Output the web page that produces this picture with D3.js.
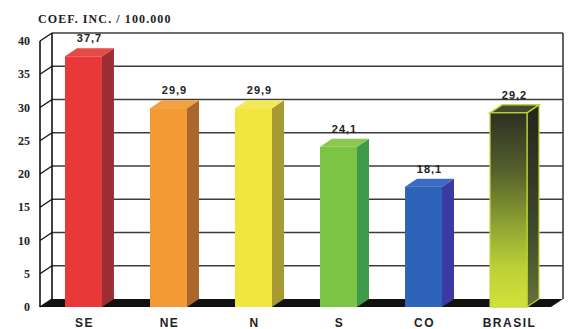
<!DOCTYPE html>
<html>
<head>
<meta charset="UTF-8">
<script src="https://d3js.org/d3.v7.min.js"></script>
<style>
  body { margin: 0; background: #fff; }
  .ticklbl { font-family: 'Liberation Serif', serif; font-weight: bold; font-size: 12px; fill: #222; }
  .title { font-family: 'Liberation Serif', serif; font-weight: bold; font-size: 12px; fill: #222; letter-spacing: 1.1px; }
  .xlbl { font-family: 'Liberation Sans', Arial, sans-serif; font-weight: bold; font-size: 12px; fill: #222; letter-spacing: 1.5px; }
  .vlbl { font-family: 'Liberation Sans', Arial, sans-serif; font-weight: bold; font-size: 11px; fill: #222; letter-spacing: 1px; }
</style>
</head>
<body>
<svg id="chart" width="568" height="329"></svg>
<script>
  // data
  const regions = ['SE', 'NE', 'N', 'S', 'CO', 'BRASIL'];
  const coef = [37.7, 29.9, 29.9, 24.1, 18.1, 29.2];
  const valueLabels = ['37,7', '29,9', '29,9', '24,1', '18,1', '29,2'];
  const ticks = [0, 5, 10, 15, 20, 25, 30, 35, 40];

  // colours: front, side, top
  const colors = [
    ['#e8383a', '#9c2f34', '#e64a44'],
    ['#f39a35', '#a9672c', '#f2a040'],
    ['#f1e540', '#a89a32', '#f3ea5a'],
    ['#7cc443', '#3f9b4b', '#8cc850'],
    ['#2f63b9', '#3b3aa2', '#3b6cc2'],
    ['url(#brFront)', 'url(#brSide)', '#454a2c']
  ];

  const svg = d3.select('#chart');
  const dx = 12, dy = -8; // depth offset of 3d

  const y = d3.scaleLinear().domain([0, 40]).range([307, 41]);
  const x = d3.scaleBand().domain(regions).range([40, 552]).paddingInner(0.565).paddingOuter(0.294);

  const defs = svg.append('defs');
  const g1 = defs.append('linearGradient').attr('id', 'brFront').attr('x1', 0).attr('x2', 0).attr('y1', 0).attr('y2', 1);
  g1.append('stop').attr('offset', '0%').attr('stop-color', '#2c3124');
  g1.append('stop').attr('offset', '30%').attr('stop-color', '#56602c');
  g1.append('stop').attr('offset', '60%').attr('stop-color', '#93a834');
  g1.append('stop').attr('offset', '80%').attr('stop-color', '#bcd136');
  g1.append('stop').attr('offset', '100%').attr('stop-color', '#d2e23a');
  const g2 = defs.append('linearGradient').attr('id', 'brSide').attr('x1', 0).attr('x2', 0).attr('y1', 0).attr('y2', 1);
  g2.append('stop').attr('offset', '0%').attr('stop-color', '#22251c');
  g2.append('stop').attr('offset', '60%').attr('stop-color', '#3f4828');
  g2.append('stop').attr('offset', '100%').attr('stop-color', '#66723a');

  const x0 = 40, x1 = 551;

  // title
  svg.append('text').attr('class', 'title').attr('x', 38).attr('y', 23).text('COEF. INC. / 100.000');

  // back wall gridlines
  svg.append('g').selectAll('line').data(ticks.filter(t => t > 0)).join('line')
    .attr('x1', x0 + dx).attr('x2', x1 + dx)
    .attr('y1', d => y(d) + dy).attr('y2', d => y(d) + dy)
    .attr('stroke', '#3c3c3c').attr('stroke-width', 1.6);

  // right edge of back wall
  svg.append('line').attr('x1', x1 + dx).attr('x2', x1 + dx)
    .attr('y1', y(40) + dy).attr('y2', y(0) + dy).attr('stroke', '#3c3c3c').attr('stroke-width', 1.6);

  // left wall: front and back vertical lines, plus tick connectors
  svg.append('line').attr('x1', x0).attr('x2', x0).attr('y1', y(40)).attr('y2', y(0))
    .attr('stroke', '#111').attr('stroke-width', 1.6);
  svg.append('line').attr('x1', x0 + dx).attr('x2', x0 + dx).attr('y1', y(40) + dy).attr('y2', y(0) + dy)
    .attr('stroke', '#111').attr('stroke-width', 1.6);
  svg.append('g').selectAll('line').data(ticks).join('line')
    .attr('x1', x0).attr('x2', x0 + dx)
    .attr('y1', d => y(d)).attr('y2', d => y(d) + dy)
    .attr('stroke', '#111').attr('stroke-width', 1.4);

  // floor
  svg.append('path')
    .attr('d', `M${x0},${y(0)} L${x1},${y(0)} L${x1 + dx},${y(0) + dy} L${x0 + dx},${y(0) + dy} Z`)
    .attr('fill', '#111');

  // tick labels
  svg.append('g').selectAll('text').data(ticks).join('text')
    .attr('class', 'ticklbl')
    .attr('x', 30).attr('y', d => y(d))
    .attr('dy', '0.35em').attr('text-anchor', 'end')
    .text(d => d);

  // bars
  const bars = svg.append('g').selectAll('g').data(regions).join('g');
  bars.each(function (r, i) {
    const gb = d3.select(this);
    const bx = x(r), bw = x.bandwidth(), top = y(coef[i]), base = y(0);
    const c = colors[i];
    const outline = i === 5 ? '#c2d436' : 'none';
    // side
    gb.append('path')
      .attr('d', `M${bx + bw},${top} L${bx + bw + dx},${top + dy} L${bx + bw + dx},${base + dy} L${bx + bw},${base} Z`)
      .attr('fill', c[1])
      .attr('stroke', outline).attr('stroke-width', 1.2);
    // top
    gb.append('path')
      .attr('d', `M${bx},${top} L${bx + dx},${top + dy} L${bx + bw + dx},${top + dy} L${bx + bw},${top} Z`)
      .attr('fill', c[2])
      .attr('stroke', outline).attr('stroke-width', 1.5);
    // front
    gb.append('rect')
      .attr('x', bx).attr('y', top).attr('width', bw).attr('height', base - top)
      .attr('fill', c[0])
      .attr('stroke', outline).attr('stroke-width', 1.2);
    // value label
    gb.append('text').attr('class', 'vlbl')
      .attr('x', bx + bw / 2 + dx / 2).attr('y', top + dy - 6)
      .attr('text-anchor', 'middle')
      .text(valueLabels[i]);
  });

  // x labels
  svg.append('g').selectAll('text').data(regions).join('text')
    .attr('class', 'xlbl')
    .attr('x', d => x(d) + x.bandwidth() / 2 + 1).attr('y', 327)
    .attr('text-anchor', 'middle')
    .text(d => d);
</script>
</body>
</html>
